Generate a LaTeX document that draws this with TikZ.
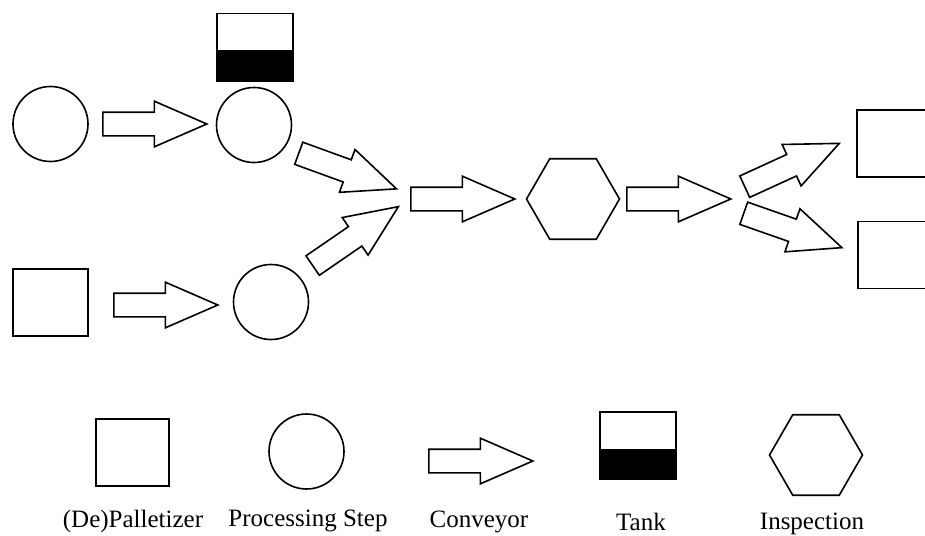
\documentclass[tikz,border=0pt]{standalone}
\usepackage{fontspec}
\setmainfont{Liberation Serif}
\usetikzlibrary{shapes.geometric,shapes.arrows,positioning}

\tikzset{
  palletizer/.style={draw, rectangle, minimum width=75pt, minimum height=67pt, inner sep=0pt},
  process/.style={draw, circle, minimum size=75pt, inner sep=0pt},
  inspection/.style={draw, regular polygon, regular polygon sides=6, minimum size=93pt, inner sep=0pt},
  tank/.style={draw, rectangle, minimum width=76pt, minimum height=68pt, inner sep=0pt,
    path picture={\fill ([yshift=-3pt]path picture bounding box.west) rectangle (path picture bounding box.south east);}},
  conveyor/.style={draw, single arrow, anchor=tail, minimum height=104pt, minimum width=44pt,
    single arrow head extend=11pt, single arrow tip angle=47, single arrow head indent=0pt,
    inner xsep=0pt, inner ysep=11pt},
  legend/.style={font=\fontsize{25}{29}\selectfont, inner sep=0pt},
}

\begin{document}
\begin{tikzpicture}[x=1pt, y=-1pt, line width=1.6pt]
  \useasboundingbox (0,0) rectangle (925,535);
  \clip (0,0) rectangle (925,535);

  % upper line
  \node[process] (ps1) at (50.5,124) {};
  \node[conveyor] (cv1) at (102,124) {};
  \node[process] (ps2) at (254,125) {};
  \node[tank] (tk1) at (255,47.5) {};

  % lower line
  \node[palletizer] (dp1) at (50.5,302.5) {};
  \node[conveyor] (cv2) at (113,305) {};
  \node[process] (ps3) at (271,302) {};

  % merge and inspection
  \node[conveyor, rotate=-20] (cv3) at (298,153) {};
  \node[conveyor, rotate=34.5] (cv4) at (312,266) {};
  \node[conveyor] (cv5) at (410,199) {};
  \node[inspection] (in1) at (573,199) {};
  \node[conveyor] (cv6) at (626,199) {};

  % split
  \node[conveyor, rotate=24.6] (cv7) at (744,187) {};
  \node[conveyor, rotate=-19.3] (cv8) at (743,213) {};
  \node[palletizer] (dp2) at (894.5,143.5) {};
  \node[palletizer] (dp3) at (895.5,255) {};

  % legend
  \node[palletizer, minimum width=73pt] (lgPal) at (132.5,452.5) {};
  \node[process] (lgPs) at (306.5,451.5) {};
  \node[conveyor] (lgCv) at (428,461) {};
  \node[tank, minimum height=67pt] (lgTk) at (638,445.5) {};
  \node[inspection] (lgIn) at (816,455) {};

  \node[legend] (lbPal) at (133,521) {(De)Palletizer};
  \node[legend] (lbPs) at (308,521) {Processing Step};
  \node[legend] (lbCv) at (479,522) {Conveyor};
  \node[legend] (lbTk) at (641,522) {Tank};
  \node[legend] (lbIn) at (812,524) {Inspection};
\end{tikzpicture}
\end{document}
